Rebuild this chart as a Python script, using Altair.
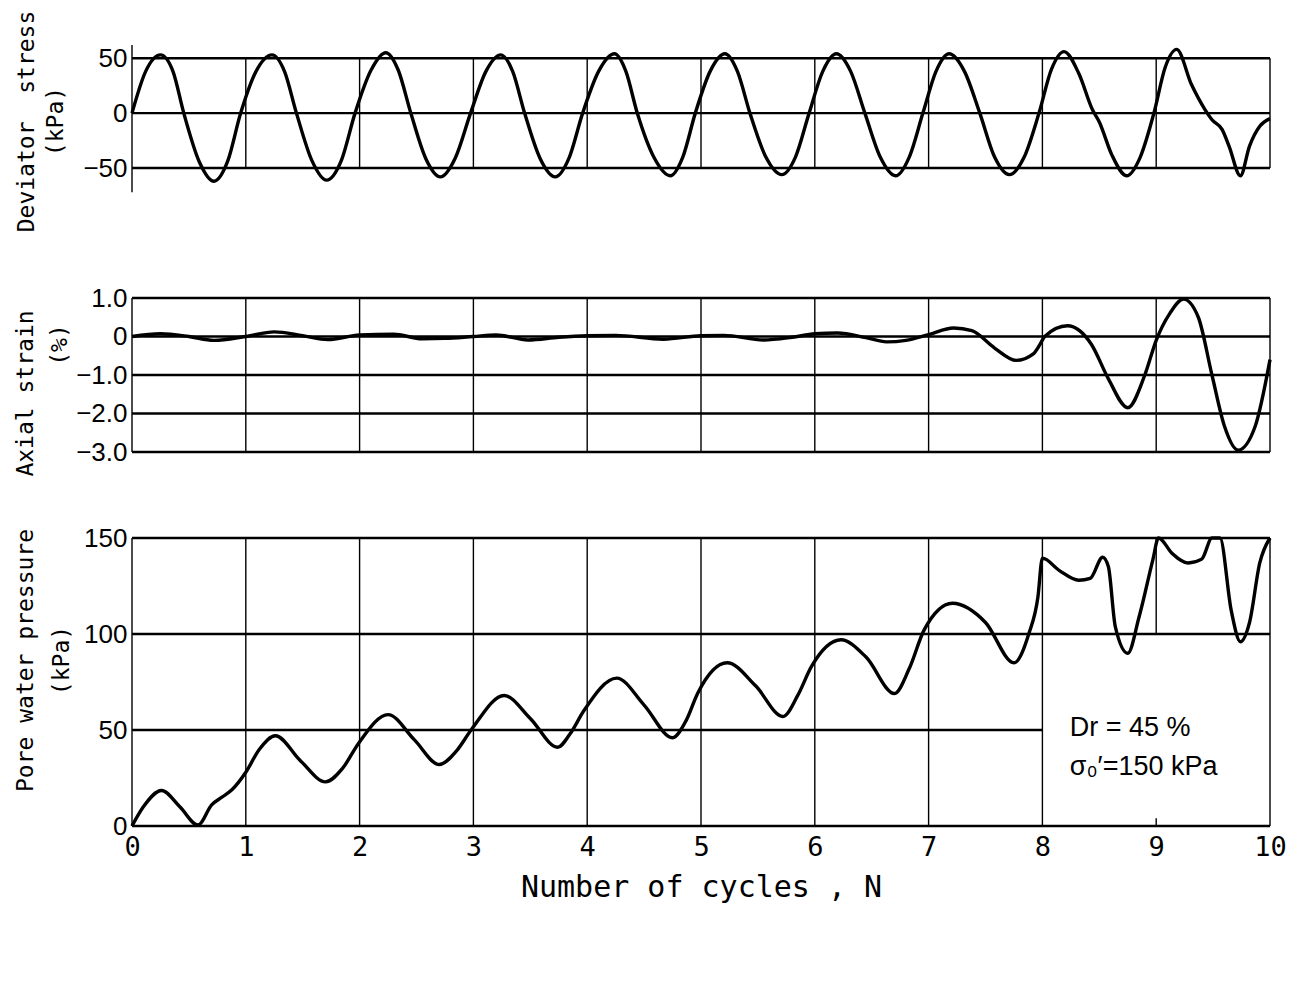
import altair as alt
import pandas as pd

FONT = "DejaVu Sans Mono"
SANS = "Liberation Sans"

# ---------------- data ----------------
cycles_ticks = [0, 1, 2, 3, 4, 5, 6, 7, 8, 9, 10]

stress_x = [0.00, 0.12, 0.25, 0.36, 0.455, 0.59, 0.72, 0.84, 0.955,
            1.09, 1.23, 1.34, 1.445, 1.58, 1.71, 1.84, 1.96,
            2.10, 2.23, 2.34, 2.45, 2.58, 2.71, 2.84, 2.975,
            3.11, 3.24, 3.345, 3.45, 3.585, 3.72, 3.84, 3.96,
            4.10, 4.24, 4.34, 4.44, 4.585, 4.73, 4.84, 4.95,
            5.08, 5.21, 5.32, 5.43, 5.57, 5.71, 5.83, 5.95,
            6.07, 6.19, 6.315, 6.44, 6.575, 6.71, 6.83, 6.95,
            7.065, 7.18, 7.315, 7.45, 7.58, 7.71, 7.84, 7.97,
            8.08, 8.19, 8.32, 8.44, 8.50, 8.61, 8.74, 8.86, 8.98,
            9.08, 9.18, 9.31, 9.43, 9.49, 9.58, 9.64, 9.74, 9.82, 9.91, 10.0]
stress_y = [0, 38, 53, 38, 0, -44, -62, -44, 0,
            38, 53, 38, 0, -43, -61, -43, 0,
            39, 55, 39, 0, -41, -58, -41, 0,
            38, 53, 38, 0, -41, -58, -41, 0,
            38, 54, 38, 0, -40, -57, -40, 0,
            38, 54, 38, 0, -40, -56, -40, 0,
            38, 54, 38, 0, -40, -57, -40, 0,
            38, 54, 38, 0, -40, -56, -40, 0,
            40, 56, 36, 3, -8, -38, -57, -40, 0,
            42, 58, 26, 3, -6, -15, -30, -57, -30, -12, -5]

strain_x = [0.00, 0.25, 0.50, 0.72, 1.00, 1.25, 1.50, 1.72, 2.00, 2.30, 2.55, 2.75,
            3.00, 3.20, 3.48, 3.75, 4.00, 4.25, 4.67, 5.00, 5.20, 5.55, 5.80,
            6.00, 6.20, 6.45, 6.63, 6.80, 7.00, 7.22, 7.38, 7.58, 7.77, 7.92, 7.98,
            8.02, 8.22, 8.43, 8.58, 8.75, 8.90, 9.00, 9.12, 9.24, 9.37, 9.49,
            9.60, 9.72, 9.87, 10.0]
strain_y = [0.0, 0.07, 0.0, -0.10, 0.0, 0.12, 0.02, -0.08, 0.04, 0.06, -0.06, -0.05,
            0.0, 0.04, -0.09, -0.02, 0.02, 0.03, -0.07, 0.02, 0.03, -0.09, -0.02,
            0.07, 0.09, -0.03, -0.14, -0.10, 0.05, 0.22, 0.15, -0.30, -0.62, -0.45, -0.20,
            0.0, 0.28, -0.20, -1.10, -1.85, -1.00, -0.10, 0.60, 0.97, 0.50, -1.00,
            -2.33, -2.95, -2.33, -0.60]

pwp_x = [0.00, 0.10, 0.26, 0.42, 0.58, 0.70, 0.79, 0.88, 1.00, 1.12, 1.26, 1.48, 1.70,
         1.85, 1.99, 2.25, 2.48, 2.70, 2.85, 2.98, 3.27, 3.50, 3.74, 3.85, 3.97,
         4.26, 4.50, 4.75, 4.87, 4.97, 5.23, 5.48, 5.72, 5.85, 5.97, 6.23, 6.45,
         6.70, 6.83, 6.96, 7.21, 7.50, 7.75, 7.88, 7.96, 8.00, 8.15, 8.32, 8.42,
         8.53, 8.58, 8.64, 8.75, 8.85, 8.97, 9.02, 9.14, 9.28, 9.40, 9.49, 9.56,
         9.66, 9.74, 9.82, 9.91, 10.0]
pwp_y = [0, 10, 18.5, 10, 0.5, 11, 15, 19, 28, 40, 47, 34, 23,
         30, 43, 58, 45, 32, 39, 50, 68, 56, 41, 48, 60,
         77, 63, 46, 55, 69, 85, 73, 57, 68, 83, 97, 88,
         69, 82, 102, 116, 106, 85, 100, 119, 139.5, 133, 128, 129,
         140, 135, 104, 90, 109, 138.5, 150, 142, 137, 139, 150, 150,
         112, 96, 106, 137, 150]

# grid structure of each panel
top_h_y = [50, 0, -50]
top_v_x = [1, 2, 3, 4, 5, 6, 7, 8, 9, 10]
top_ticks = [50, 0, -50]

mid_h_y = [1, 0, -1, -2, -3]
mid_v_x = [1, 2, 3, 4, 5, 6, 7, 8, 9, 10]
mid_ticks = [1, 0, -1, -2, -3]

bot_h_y = [150, 100, 50, 0]
bot_h_x2 = [10, 10, 8, 10]
bot_v_x = [0, 1, 2, 3, 4, 5, 6, 7, 8, 9, 9, 10]
bot_v_y = [0, 0, 0, 0, 0, 0, 0, 0, 0, 100, 0, 0]
bot_v_y2 = [150, 150, 150, 150, 150, 150, 150, 150, 150, 150, 4, 150]
bot_ticks = [0, 50, 100, 150]

note_x = [8.24, 8.24]
note_y = [51, 30.5]
note_text = ["Dr = 45 %", "σ₀′=150 kPa"]

W = 1138
xscale = alt.Scale(domain=[0, 10], nice=False, zero=False)


def panel(curve_x, curve_y, ydomain, height, hy, hx2, vx, vy, vy2, axis_y, xaxis,
          notes=None):
    yscale = alt.Scale(domain=ydomain, nice=False, zero=False)
    curve = pd.DataFrame({"x": curve_x, "y": curve_y})
    hr = pd.DataFrame({"x": [0] * len(hy), "y": hy, "x2": hx2})
    vr = pd.DataFrame({"x": vx, "y": vy, "y2": vy2})

    def enc(extra):
        return dict(x=alt.X("x:Q", scale=xscale, axis=xaxis),
                    y=alt.Y("y:Q", scale=yscale, axis=axis_y), **extra)

    hl = alt.Chart(hr).mark_rule(color="black", strokeWidth=2.4).encode(
        **enc({"x2": "x2:Q"}))
    vl = alt.Chart(vr).mark_rule(color="black", strokeWidth=1.4).encode(
        **enc({"y2": "y2:Q"}))
    line = alt.Chart(curve).mark_line(color="black", strokeWidth=3.4,
                                       interpolate="monotone").encode(**enc({}))
    layers = [hl, vl, line]
    if notes is not None:
        nt = alt.Chart(notes).mark_text(align="left", baseline="middle", font=SANS,
                                        fontSize=27, color="black").encode(
            **enc({"text": "t:N"}))
        layers.append(nt)
    return alt.layer(*layers).properties(width=W, height=height)


def yaxis(values, title, tx, ty, lh, label_expr=None):
    kw = dict(values=values, grid=False, ticks=False, domain=False,
              labelFont=SANS, labelFontSize=26, labelColor="black", labelPadding=5,
              title=title, titleFont=FONT, titleFontSize=23, titleFontWeight="normal",
              titleColor="black", titleAngle=270, titleX=tx, titleY=ty,
              titleBaseline="middle", titleAlign="center", titleLineHeight=lh)
    if label_expr:
        kw["labelExpr"] = label_expr
    return alt.Axis(**kw)


top = panel(stress_x, stress_y, [-90, 62], 167,
            top_h_y, [10, 10, 10],
            top_v_x + [0], [-50] * len(top_v_x) + [-72], [50] * len(top_v_x) + [62],
            yaxis(top_ticks, ["Deviator\u00a0 stress", "(kPa)"], -106, 76, 29),
            None)

mid = panel(strain_x, strain_y, [-3, 1], 154,
            mid_h_y, [10] * len(mid_h_y),
            mid_v_x + [0], [-3] * (len(mid_v_x) + 1), [1] * (len(mid_v_x) + 1),
            yaxis(mid_ticks, ["Axial strain", "\u200b" + "\u00a0" * 7 + "(%)"], -107, 95, 34,
                  "datum.value == 0 ? '0' : format(datum.value, '.1f')"),
            None)

xaxis_bottom = alt.Axis(values=cycles_ticks, grid=False, ticks=False, domain=False,
                        labelFont=FONT, labelFontSize=27, labelColor="black",
                        labelPadding=8, labelFlush=False,
                        title="Number of cycles , N", titleFont=FONT, titleFontSize=30,
                        titleFontWeight="normal", titleColor="black", titlePadding=12)

notes_df = pd.DataFrame({"x": note_x, "y": note_y, "t": note_text})

bot = panel(pwp_x, pwp_y, [0, 150], 288,
            bot_h_y, bot_h_x2, bot_v_x, bot_v_y, bot_v_y2,
            yaxis(bot_ticks, ["Pore water pressure", "(kPa)"], -107, 122, 36),
            xaxis_bottom, notes=notes_df)

chart = alt.vconcat(top, mid, bot, spacing=86, bounds="flush").properties(
    padding={"left": 6, "top": 2, "right": 0, "bottom": 5},
    background="white",
).configure_view(stroke=None)

chart.save("out.html", embed_options={"renderer": "svg", "actions": False})
